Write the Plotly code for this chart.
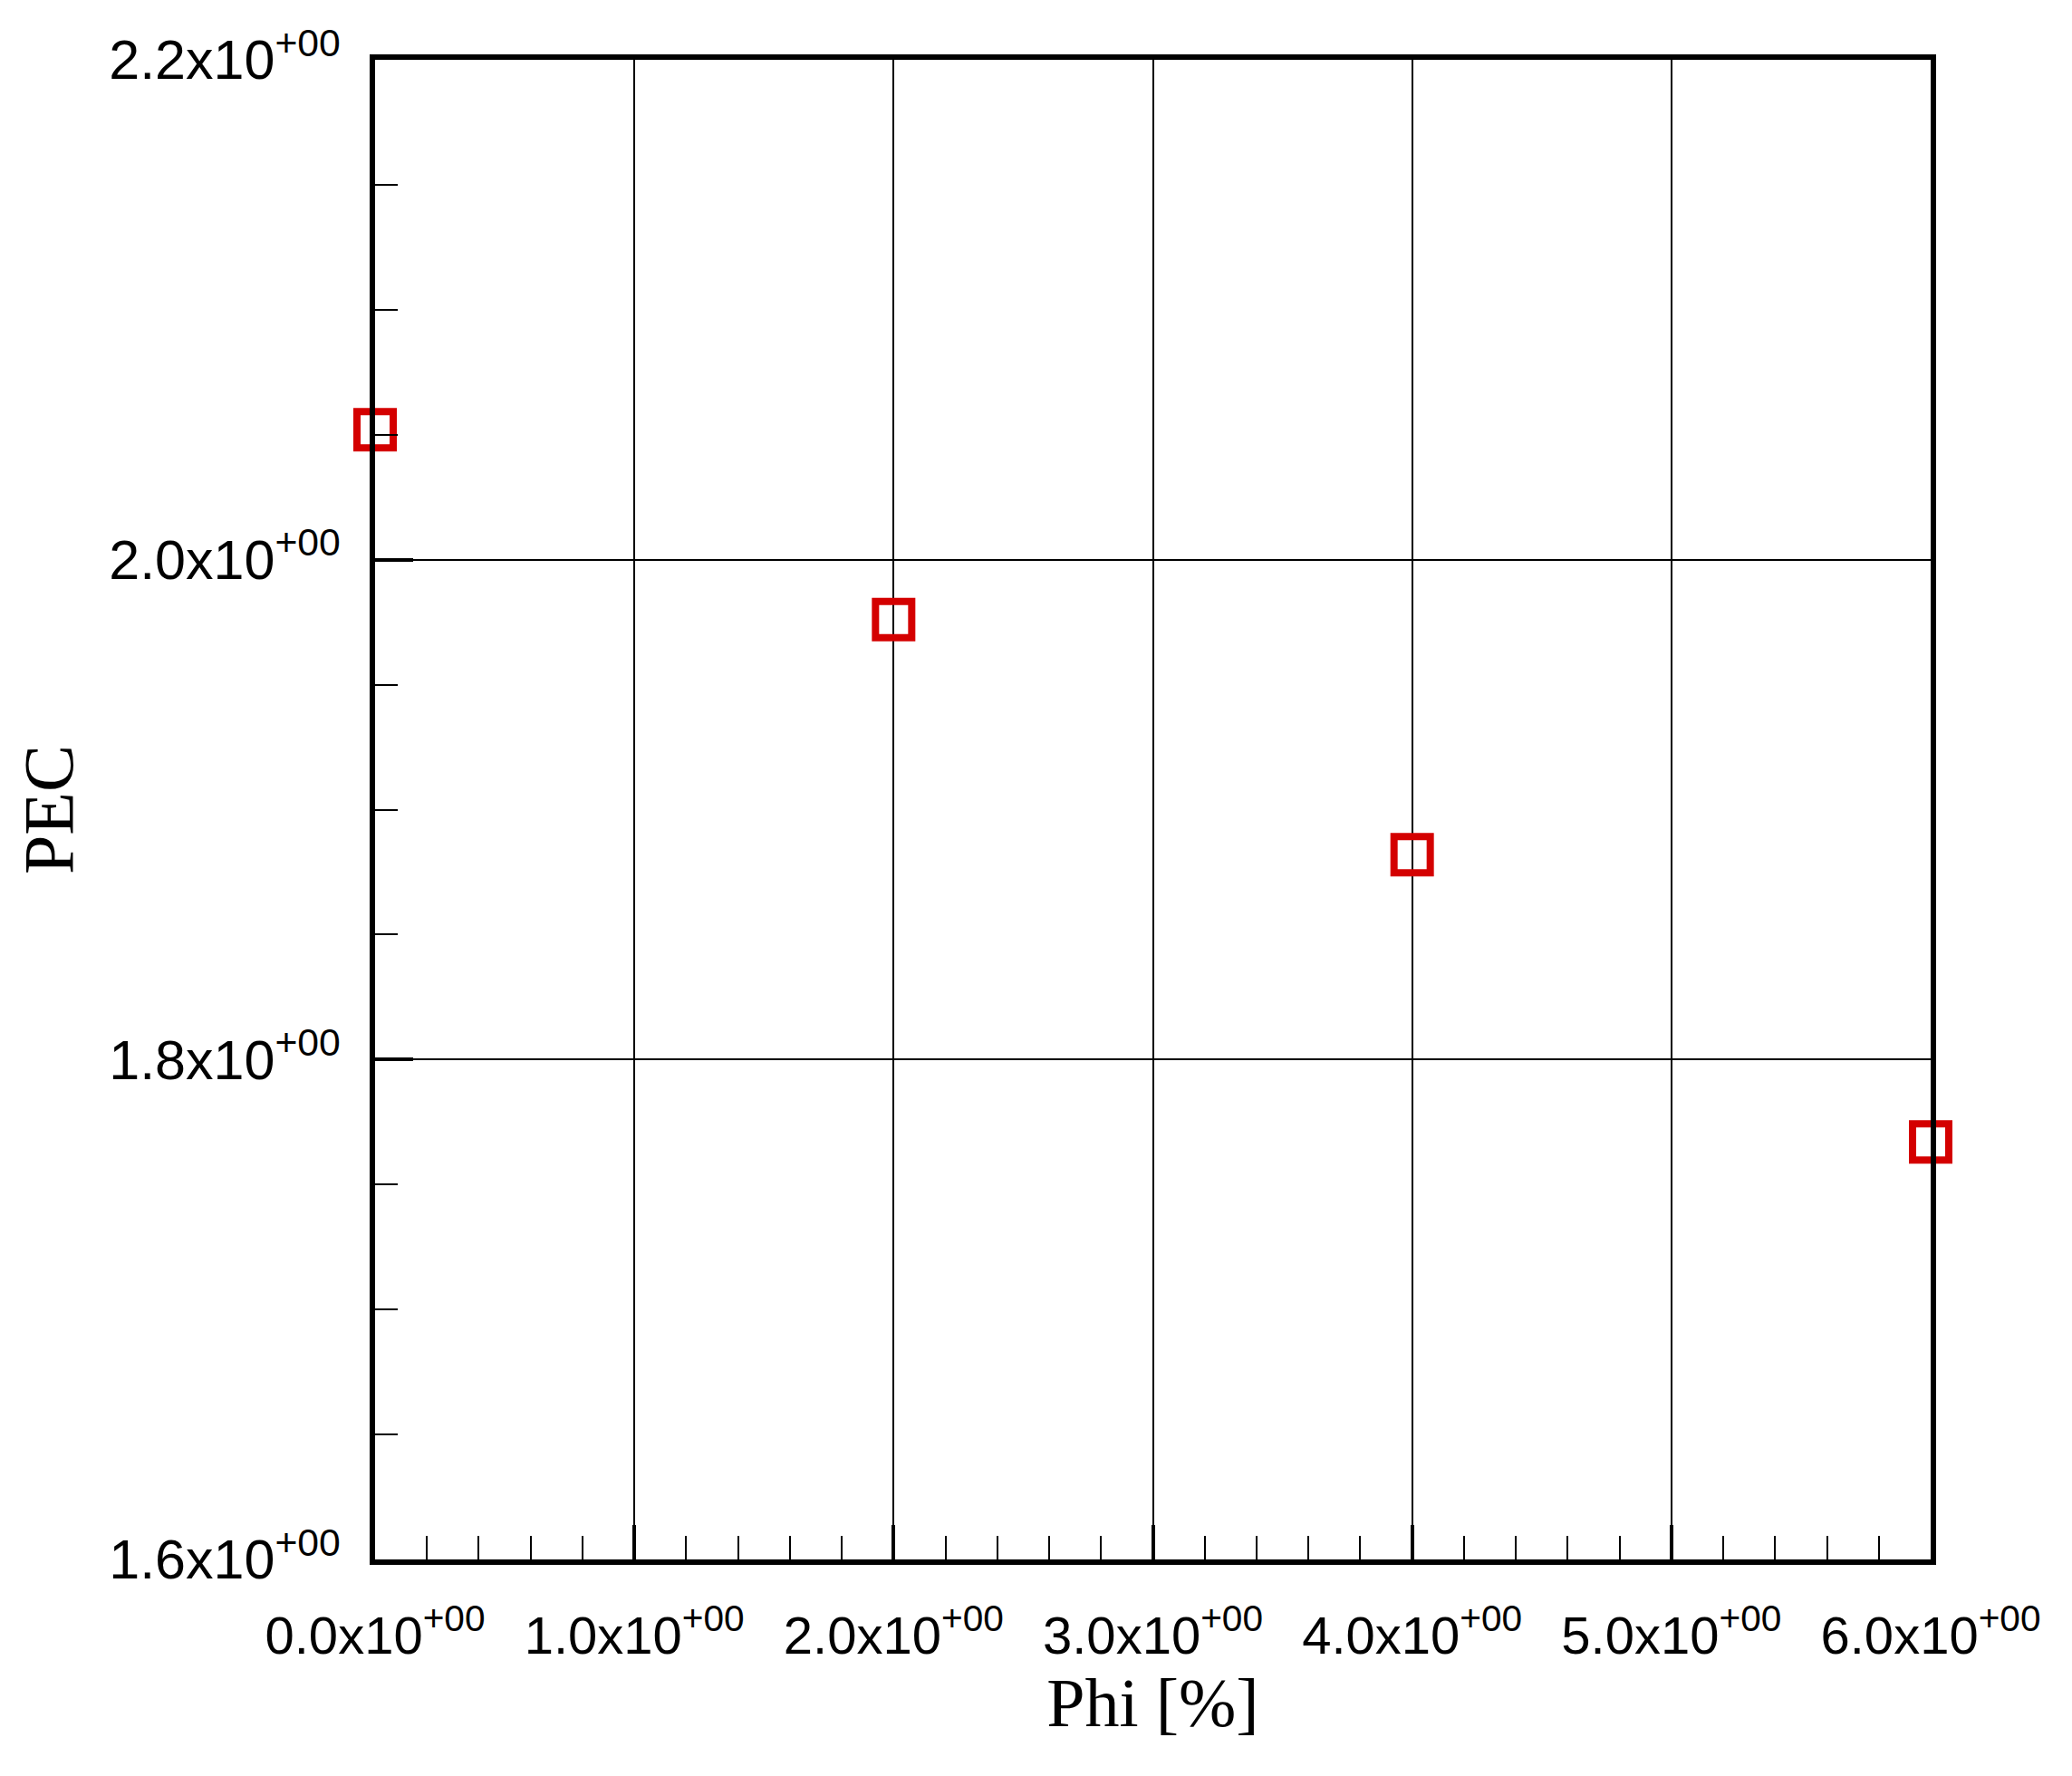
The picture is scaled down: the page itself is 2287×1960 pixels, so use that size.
import plotly.graph_objects as go

phi = [0, 2, 4, 6]
pec = [2.052, 1.976, 1.882, 1.767]

x_ticks = [0, 1, 2, 3, 4, 5, 6]
x_labels = ["0.0", "1.0", "2.0", "3.0", "4.0", "5.0", "6.0"]
y_ticks = [1.6, 1.8, 2.0, 2.2]
y_labels = ["1.6", "1.8", "2.0", "2.2"]

fig = go.Figure()
fig.add_trace(go.Scatter(
    x=phi, y=pec, mode="markers",
    marker=dict(symbol="square-open", size=40, color="#d40000",
                line=dict(width=8, color="#d40000")),
    cliponaxis=False, showlegend=False,
))

fig.update_layout(
    width=2287, height=1960,
    margin=dict(l=406, r=164, t=58, b=247),
    paper_bgcolor="white", plot_bgcolor="white",
)

fig.update_xaxes(
    range=[0, 6], tickmode="array", tickvals=x_ticks,
    ticktext=[f"{t}x10<sup>+00</sup>" for t in x_labels],
    tickfont=dict(family="Liberation Sans, Arial", size=58, color="black"),
    ticks="inside", ticklen=38, tickwidth=4, tickcolor="black",
    minor=dict(ticks="inside", ticklen=26, tickwidth=2, tickcolor="black", dtick=0.2, showgrid=False),
    showgrid=True, gridcolor="black", gridwidth=1.5,
    showline=True, linecolor="black", linewidth=6, mirror=True,
    zeroline=False, ticklabelstandoff=28,
    title=dict(text="Phi [%]", font=dict(family="Liberation Serif, Times New Roman", size=76, color="black"), standoff=8),
)
fig.update_yaxes(
    range=[1.6, 2.2], tickmode="array", tickvals=y_ticks,
    ticktext=[f"{t}x10<sup>+00</sup>" for t in y_labels],
    tickfont=dict(family="Liberation Sans, Arial", size=61, color="black"),
    ticks="inside", ticklen=42, tickwidth=4, tickcolor="black",
    minor=dict(ticks="inside", ticklen=25, tickwidth=2, tickcolor="black", dtick=0.05, showgrid=False),
    showgrid=True, gridcolor="black", gridwidth=1.5,
    showline=True, linecolor="black", linewidth=6, mirror=True,
    zeroline=False, ticklabelstandoff=20,
    title=dict(text="PEC", font=dict(family="Liberation Serif, Times New Roman", size=78, color="black"), standoff=16),
)

fig.write_html("out.html")
